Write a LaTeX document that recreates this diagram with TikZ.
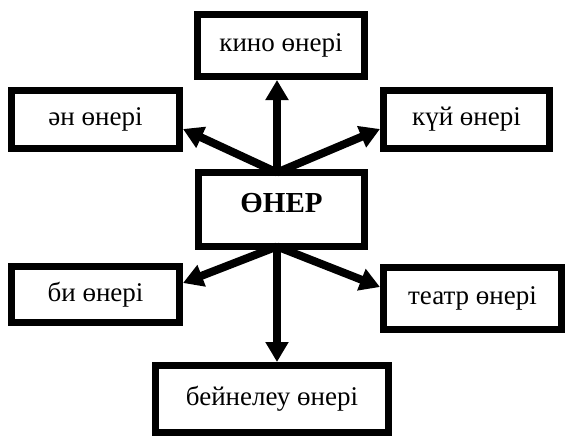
\documentclass[tikz,border=0pt]{standalone}
\usepackage{fontspec}
\setmainfont{Liberation Serif}
\usetikzlibrary{arrows.meta}
\begin{document}
\begin{tikzpicture}[x=1pt,y=-1pt,
  box/.style={draw=black, line width=7pt, fill=white, rectangle, inner sep=0pt,
    font=\fontsize{27}{30}\selectfont},
  conn/.style={line width=8pt, -{Triangle[length=20pt,width=22pt]}}]
\useasboundingbox (0,0) rectangle (568,437);
\fill[white] (0,0) rectangle (568,437);
\node[box, minimum width=167pt, minimum height=62pt] (kino) at (281,45.5) {кино өнері};
\node[box, minimum width=168pt, minimum height=58pt] (an) at (95.5,119.5) {ән өнері};
\node[box, minimum width=166pt, minimum height=58pt] (kui) at (466.5,119.5) {күй өнері};
\node[box, minimum width=166pt, minimum height=74pt, text depth=13pt,
  font=\fontsize{29}{32}\selectfont\bfseries] (oner) at (281.5,209.5) {ӨНЕР};
\node[box, minimum width=168pt, minimum height=56pt] (bi) at (95.5,294.5) {би өнері};
\node[box, minimum width=178pt, minimum height=62pt] (teatr) at (472.5,298.5) {театр өнері};
\node[box, minimum width=233pt, minimum height=67pt] (beine) at (272,399) {бейнелеу өнері};
\coordinate (hubT) at (277,172.5);
\coordinate (hubB) at (277,246.5);
\draw[conn] (hubT) -- (hubT |- kino.south);
\draw[conn] (hubT) -- ([yshift=-9.5pt]an.east);
\draw[conn] (hubT) -- ([yshift=-9.5pt]kui.west);
\draw[conn] (hubB) -- ([yshift=11.5pt]bi.east);
\draw[conn] (hubB) -- ([yshift=11.5pt]teatr.west);
\draw[conn] (hubB) -- (hubB |- beine.north);
\end{tikzpicture}
\end{document}
